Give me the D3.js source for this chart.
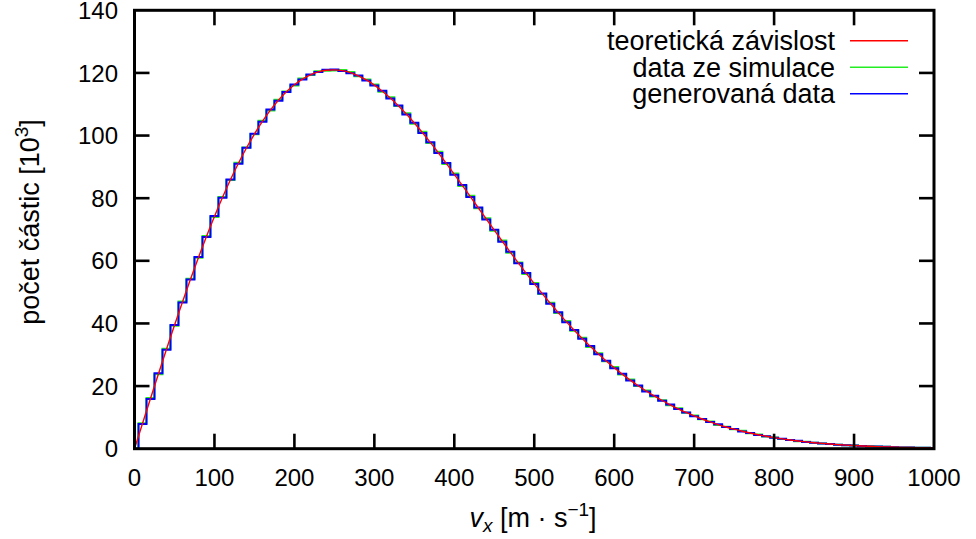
<!DOCTYPE html>
<html>
<head>
<meta charset="utf-8">
<script src="https://cdn.jsdelivr.net/npm/d3@7"></script>
<style>
  html, body { margin: 0; padding: 0; background: #fff; }
  svg { display: block; }
</style>
</head>
<body>
<svg id="chart" width="976" height="539"></svg>
<script>
// Speed grid (m/s), one value every 10 m/s
const speeds = d3.range(0, 1001, 10);

// Theoretical distribution (thousands of particles)
const theory = [
  0, 8.04, 16.04, 23.96, 31.76, 39.41, 46.87, 54.11, 61.09, 67.78,
  74.16, 80.20, 85.87, 91.15, 96.03, 100.49, 104.53, 108.12, 111.26, 113.97,
  116.22, 118.03, 119.40, 120.35, 120.87, 120.99, 120.72, 120.08, 119.08, 117.75,
  116.11, 114.17, 111.97, 109.52, 106.86, 104.00, 100.97, 97.81, 94.51, 91.11,
  87.63, 84.09, 80.52, 76.94, 73.35, 69.78, 66.25, 62.76, 59.33, 55.97,
  52.70, 49.52, 46.43, 43.45, 40.58, 37.83, 35.20, 32.68, 30.29, 28.01,
  25.86, 23.83, 21.91, 20.11, 18.43, 16.85, 15.39, 14.02, 12.75, 11.57,
  10.48, 9.48, 8.56, 7.71, 6.94, 6.23, 5.58, 5.00, 4.46, 3.98,
  3.54, 3.15, 2.79, 2.47, 2.18, 1.92, 1.69, 1.49, 1.31, 1.14,
  1.00, 0.87, 0.76, 0.66, 0.57, 0.50, 0.43, 0.37, 0.32, 0.28, 0.24
];

// Histogram of the simulation
const simulated = [
  0, 8.1, 16.2, 23.8, 31.9, 39.3, 47.0, 54.3, 61.0, 67.9,
  74.0, 80.4, 85.8, 91.3, 96.2, 100.4, 104.7, 108.0, 111.4, 114.1,
  116.0, 118.2, 119.3, 120.5, 120.7, 120.8, 120.9, 120.3, 118.9, 117.9,
  116.3, 114.0, 112.2, 109.4, 107.1, 103.8, 101.2, 97.6, 94.8, 90.9,
  87.9, 83.9, 80.8, 76.8, 73.6, 69.6, 66.5, 62.6, 59.5, 55.8,
  52.9, 49.4, 46.6, 43.3, 40.8, 37.7, 35.4, 32.5, 30.5, 27.9,
  26.1, 23.7, 22.1, 20.0, 18.6, 16.7, 15.5, 13.9, 12.9, 11.5,
  10.6, 9.4, 8.7, 7.6, 7.0, 6.2, 5.7, 4.9, 4.5, 3.9,
  3.6, 3.1, 2.8, 2.4, 2.2, 1.9, 1.7, 1.5, 1.3, 1.1,
  1.0, 0.9, 0.8, 0.7, 0.6, 0.5, 0.4, 0.4, 0.3, 0.3, 0.2
];

// Histogram of the generated sample
const generated = [
  0, 7.9, 15.9, 24.1, 31.6, 39.5, 46.7, 54.0, 61.2, 67.6,
  74.3, 80.1, 86.0, 91.0, 96.1, 100.6, 104.4, 108.3, 111.1, 113.9,
  116.3, 117.9, 119.5, 120.3, 121.0, 121.1, 120.6, 119.9, 119.2, 117.6,
  116.0, 114.3, 111.8, 109.6, 106.7, 104.1, 100.8, 97.9, 94.4, 91.2,
  87.5, 84.2, 80.4, 77.0, 73.2, 69.9, 66.1, 62.9, 59.2, 56.1,
  52.6, 49.6, 46.3, 43.6, 40.4, 37.9, 35.1, 32.8, 30.2, 28.1,
  25.7, 23.9, 21.8, 20.2, 18.3, 16.9, 15.3, 14.1, 12.7, 11.6,
  10.4, 9.5, 8.5, 7.8, 6.9, 6.3, 5.5, 5.0, 4.4, 4.0,
  3.5, 3.2, 2.8, 2.5, 2.1, 1.9, 1.7, 1.5, 1.3, 1.1,
  1.0, 0.9, 0.7, 0.7, 0.6, 0.5, 0.4, 0.4, 0.3, 0.3, 0.2
];

const xTicks = d3.range(0, 1001, 100);
const yTicks = d3.range(0, 141, 20);
const legendLabels = ["teoretická závislost", "data ze simulace", "generovaná data"];
const seriesColors = ["#ff0000", "#22ee22", "#0000ff"];

const fontStack = "'Liberation Sans', Arial, sans-serif";

const svg = d3.select("#chart")
  .attr("font-family", fontStack)
  .style("font-family", fontStack);
const plotLeft = 134.5, plotRight = 934, plotTop = 10.3, plotBottom = 448.7;

const x = d3.scaleLinear().domain([0, 1000]).range([plotLeft, plotRight]);
const y = d3.scaleLinear().domain([0, 140]).range([plotBottom, plotTop]);

svg.append("defs").append("clipPath").attr("id", "plotClip")
  .append("rect").attr("x", plotLeft).attr("y", plotTop)
  .attr("width", plotRight - plotLeft).attr("height", plotBottom - plotTop);

const plot = svg.append("g").attr("clip-path", "url(#plotClip)");

// Histogram outline: each value spans ±5 m/s around its centre
function stepLine(values) {
  const pts = [];
  const half = 5;
  pts.push([x(0), y(0)]);
  values.forEach((v, i) => {
    const c = speeds[i];
    pts.push([x(Math.max(0, c - half)), y(v)]);
    pts.push([x(Math.min(1000, c + half)), y(v)]);
  });
  return d3.line()(pts);
}

plot.append("path").attr("d", stepLine(simulated))
  .attr("fill", "none").attr("stroke", seriesColors[1]).attr("stroke-width", 2);
plot.append("path").attr("d", stepLine(generated))
  .attr("fill", "none").attr("stroke", seriesColors[2]).attr("stroke-width", 2);

const theoryLine = d3.line()
  .x((d, i) => x(speeds[i]))
  .y(d => y(d))
  .curve(d3.curveMonotoneX);
plot.append("path").attr("d", theoryLine(theory))
  .attr("fill", "none").attr("stroke", seriesColors[0]).attr("stroke-width", 1.4);

// Axes with inward ticks on all four sides
const tickLen = 15;
const axes = svg.append("g").attr("stroke", "#000").attr("stroke-width", 2.6);
xTicks.forEach(t => {
  if (t === 0 || t === 1000) return;
  axes.append("line").attr("x1", x(t)).attr("x2", x(t)).attr("y1", plotBottom).attr("y2", plotBottom - tickLen);
  axes.append("line").attr("x1", x(t)).attr("x2", x(t)).attr("y1", plotTop).attr("y2", plotTop + tickLen);
});
yTicks.forEach(t => {
  if (t === 0 || t === 140) return;
  axes.append("line").attr("x1", plotLeft).attr("x2", plotLeft + tickLen).attr("y1", y(t)).attr("y2", y(t));
  axes.append("line").attr("x1", plotRight).attr("x2", plotRight - tickLen).attr("y1", y(t)).attr("y2", y(t));
});
svg.append("rect").attr("x", plotLeft).attr("y", plotTop)
  .attr("width", plotRight - plotLeft).attr("height", plotBottom - plotTop)
  .attr("fill", "none").attr("stroke", "#000").attr("stroke-width", 3);

const tickFs = 24, labelFs = 27;
svg.append("g").selectAll("text").data(xTicks).join("text")
  .attr("x", d => x(d)).attr("y", 486)
  .attr("text-anchor", "middle").attr("font-size", tickFs)
  .text(d => d);
svg.append("g").selectAll("text").data(yTicks).join("text")
  .attr("x", 118).attr("y", d => y(d)).attr("dy", "0.36em")
  .attr("text-anchor", "end").attr("font-size", tickFs)
  .text(d => d);

// Axis titles
const xt = svg.append("text").attr("x", 533).attr("y", 527)
  .attr("text-anchor", "middle").attr("font-size", labelFs);
xt.append("tspan").attr("font-style", "italic").text("v");
xt.append("tspan").attr("font-style", "italic").attr("font-size", 19).attr("dy", 5).text("x");
xt.append("tspan").attr("dy", -5).text(" [m · s");
xt.append("tspan").attr("font-size", 19).attr("dy", -11).text("−1");
xt.append("tspan").attr("dy", 11).text("]");

const yt = svg.append("text")
  .attr("transform", "translate(39,222) rotate(-90)")
  .attr("text-anchor", "middle").attr("font-size", labelFs);
yt.append("tspan").text("počet částic [10");
yt.append("tspan").attr("font-size", 19).attr("dy", -11).text("3");
yt.append("tspan").attr("dy", 11).text("]");

// Legend
const legend = svg.append("g");
legendLabels.forEach((lab, i) => {
  const ly = 40.7 + i * 26.5;
  legend.append("text").attr("x", 835).attr("y", ly).attr("dy", "0.35em")
    .attr("text-anchor", "end").attr("font-size", labelFs).text(lab);
  legend.append("line").attr("x1", 850).attr("x2", 908).attr("y1", ly).attr("y2", ly)
    .attr("stroke", seriesColors[i]).attr("stroke-width", 1.5);
});
</script>
</body>
</html>
